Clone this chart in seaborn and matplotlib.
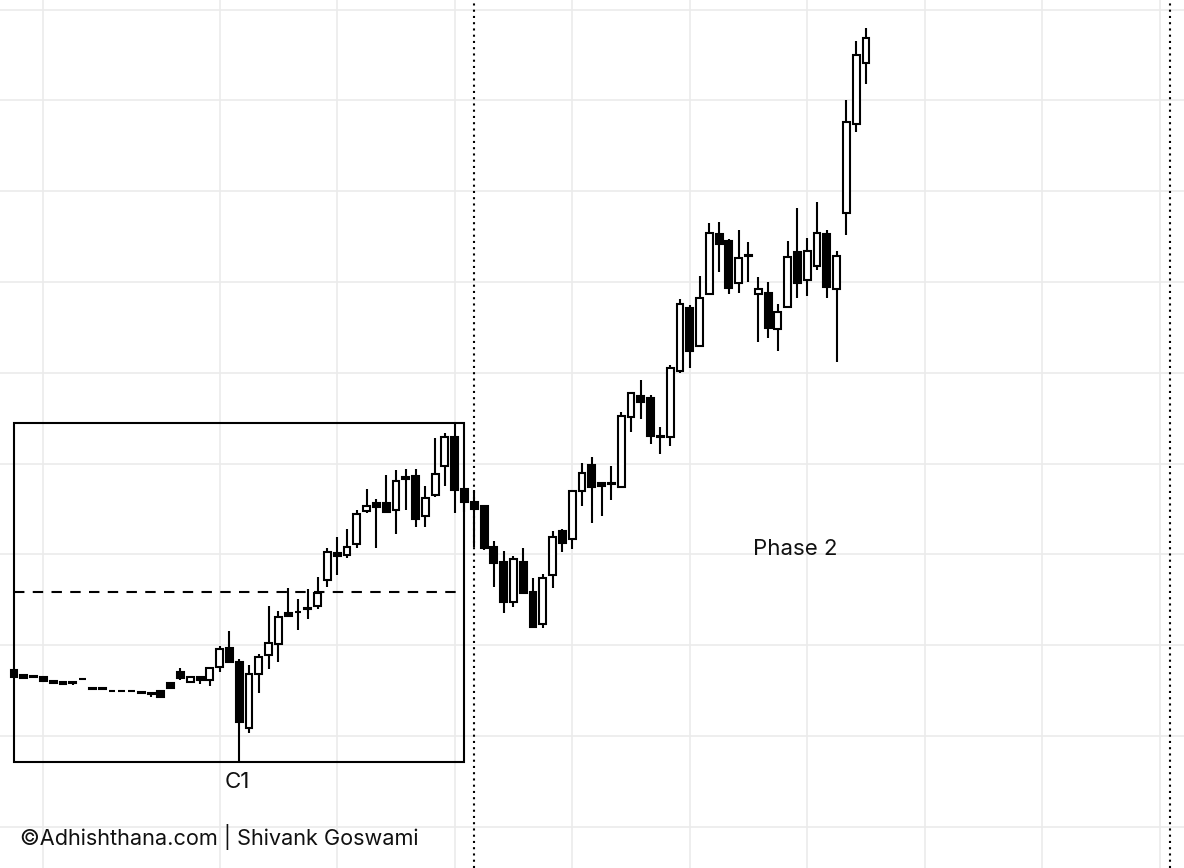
import numpy as np
import pandas as pd
import seaborn as sns
import matplotlib.pyplot as plt
from matplotlib.patches import Rectangle

# daily OHLC (arbitrary price units, gridlines every 10)
opens = [
    107.27, 106.72, 106.65, 106.50, 106.06, 105.95, 105.90, 106.30, 105.25, 105.25,
    105.00, 105.00, 105.00, 104.82, 104.74, 104.96, 105.84, 107.05, 105.95, 106.50,
    106.17, 107.60, 109.69, 108.15, 100.88, 106.83, 108.92, 110.13, 113.55, 113.70,
    114.10, 114.32, 117.18, 120.15, 119.93, 121.14, 124.78, 125.66, 125.66, 124.89,
    128.52, 128.63, 124.23, 126.54, 129.74, 132.93, 127.20, 125.77, 125.33, 120.81,
    119.16, 114.76, 119.16, 115.86, 112.33, 117.73, 122.58, 121.70, 126.98, 129.85,
    127.86, 127.80, 127.42, 135.13, 137.44, 137.22, 133.04, 132.93, 140.20, 147.14,
    142.95, 148.68, 155.29, 154.51, 149.89, 152.97, 148.68, 148.79, 144.82, 147.25,
    153.30, 150.22, 151.76, 155.29, 149.23, 157.60, 167.40, 174.12]
closes = [
    106.50, 106.39, 106.55, 106.06, 105.84, 105.73, 105.80, 106.25, 105.15, 105.15,
    104.95, 104.95, 104.95, 104.75, 104.65, 104.30, 105.29, 106.39, 106.50, 106.17,
    107.49, 109.58, 108.15, 101.54, 106.83, 108.70, 110.24, 113.11, 113.22, 113.66,
    113.99, 115.75, 120.26, 119.82, 120.81, 124.45, 125.33, 125.22, 124.67, 128.08,
    128.30, 123.90, 126.21, 128.85, 132.93, 127.09, 125.77, 125.00, 120.70, 119.05,
    114.76, 119.49, 115.75, 112.00, 117.40, 121.92, 121.25, 126.98, 128.96, 127.42,
    127.53, 127.86, 135.24, 137.77, 136.78, 133.04, 132.93, 140.53, 147.58, 142.40,
    148.24, 155.40, 154.18, 149.34, 152.64, 152.90, 149.23, 144.93, 146.70, 152.75,
    149.89, 153.41, 155.40, 149.45, 152.86, 167.62, 175.00, 176.87]
highs = [
    107.30, 106.75, 106.70, 106.50, 106.06, 105.95, 105.90, 106.30, 105.25, 105.25,
    105.00, 105.00, 105.00, 104.82, 104.74, 104.96, 105.84, 107.49, 106.50, 106.50,
    107.49, 109.91, 111.56, 108.48, 107.82, 109.03, 114.32, 113.77, 116.30, 115.09,
    116.19, 117.51, 120.70, 121.92, 122.80, 124.89, 127.20, 126.10, 128.74, 129.29,
    129.40, 129.40, 127.53, 132.82, 133.37, 134.47, 127.20, 127.09, 125.44, 121.48,
    120.37, 119.82, 120.70, 117.40, 117.84, 122.58, 122.80, 127.09, 130.07, 130.73,
    127.97, 129.74, 135.68, 137.90, 139.21, 137.55, 134.03, 140.86, 148.13, 147.47,
    150.66, 156.50, 156.61, 154.74, 155.73, 154.41, 150.55, 150.00, 147.58, 154.51,
    158.15, 154.85, 158.81, 155.73, 153.41, 170.04, 176.54, 177.97]
lows = [
    106.45, 106.35, 106.50, 105.95, 105.84, 105.73, 105.65, 106.25, 105.15, 105.15,
    104.95, 104.95, 104.95, 104.75, 104.30, 104.30, 105.29, 106.17, 105.95, 105.73,
    105.51, 107.05, 108.15, 97.14, 100.33, 104.74, 107.38, 108.15, 113.22, 111.67,
    112.89, 113.99, 116.41, 117.73, 119.60, 120.70, 124.56, 120.70, 124.56, 122.25,
    124.89, 123.02, 123.02, 126.32, 127.53, 124.56, 124.67, 120.81, 120.48, 116.41,
    113.55, 114.21, 115.75, 112.00, 111.89, 116.30, 120.26, 120.59, 125.33, 123.46,
    124.23, 125.99, 127.31, 133.48, 134.91, 132.16, 131.06, 131.94, 139.98, 140.53,
    142.95, 148.68, 151.10, 148.68, 148.79, 150.00, 143.39, 143.83, 142.40, 147.25,
    148.24, 148.46, 151.32, 148.24, 141.19, 155.18, 166.52, 171.81]

# bar index of the C1 base range and of the phase marker
c1_start, c1_end = 0, 46
phase2_start = 47
phase_end = 118
date_grid = [3, 21, 33, 45, 57, 69, 81, 93, 105, 117]

df = pd.DataFrame({'open': opens, 'high': highs, 'low': lows, 'close': closes})
df['idx'] = np.arange(len(df))
df['body_lo'] = df[['open', 'close']].min(axis=1)
df['body_h'] = (df['close'] - df['open']).abs()
up = df['close'] >= df['open']

sns.set_theme(style='whitegrid', rc={'grid.color': '#ebebeb', 'grid.linewidth': 1.2})
plt.rcParams['font.family'] = ['Inter', 'DejaVu Sans']

fig = plt.figure(figsize=(11.84, 8.68), dpi=100)
ax = fig.add_axes([0, 0, 1, 1])

# wicks then bodies
ax.vlines(df['idx'], df['low'], df['high'], color='black', lw=1.5, zorder=2)
ax.bar(df.loc[up, 'idx'], df.loc[up, 'body_h'], bottom=df.loc[up, 'body_lo'], width=0.7,
       color='white', edgecolor='black', linewidth=1.5, zorder=3)
ax.bar(df.loc[~up, 'idx'], df.loc[~up, 'body_h'], bottom=df.loc[~up, 'body_lo'], width=0.7,
       color='black', edgecolor='black', linewidth=1.5, zorder=3)

# C1 box around the base, dashed midline
base = df.iloc[c1_start:c1_end + 1]
box_lo, box_hi = base['low'].min(), base['high'].max()
ax.add_patch(Rectangle((c1_start, box_lo), c1_end - c1_start, box_hi - box_lo,
                       fill=False, edgecolor='black', lw=1.5, zorder=4))
ax.hlines((box_lo + box_hi) / 2, c1_start, c1_end, colors='black', lw=1.5,
          linestyles=(0, (5, 4)), zorder=4)
low_bar = base['low'].idxmin()
ax.text(low_bar - 0.2, box_lo - 2.26, 'C1', ha='center', va='center', fontsize=16, color='#111111')

# phase markers
for x in [phase2_start, phase_end]:
    ax.axvline(x, color='black', lw=1.5, linestyle=(0, (1, 2)), zorder=4)
ax.text(79.75, 120.54, 'Phase 2', ha='center', va='center', fontsize=16, color='#111111')

fig.text(20 / 1184, 1 - 837 / 868, '©Adhishthana.com | Shivank Goswami',
         ha='left', va='center', fontsize=15.6, color='#111111')

ax.set_xlim(-1.43, 119.47)
ax.set_ylim(85.46, 181.06)
ax.set_xticks(date_grid)
ax.set_yticks(np.arange(90, 190, 10))
ax.set_xticklabels([])
ax.set_yticklabels([])
ax.tick_params(length=0)
ax.grid(True)
ax.set_axisbelow(True)
for s in ax.spines.values():
    s.set_visible(False)

fig.savefig('out.png', dpi=100)
